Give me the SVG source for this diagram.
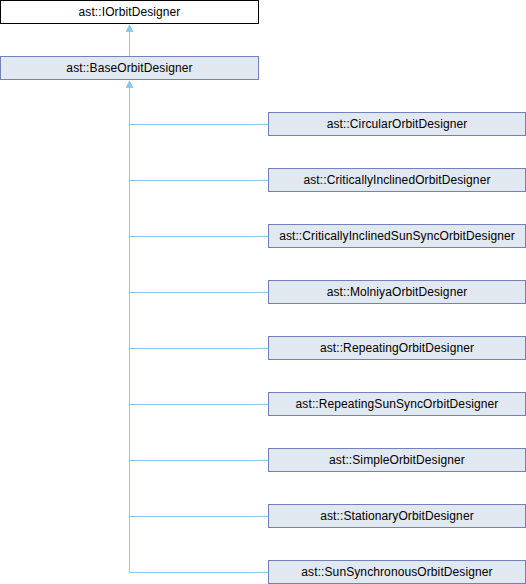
<svg xmlns="http://www.w3.org/2000/svg" width="526" height="584" viewBox="0 0 526 584">
<defs>
<style>
.n rect{fill:#E2E8F2;stroke:#7082B8;stroke-width:1}
.r rect{fill:#FFFFFF;stroke:#000000;stroke-width:1}
text{font-family:"Liberation Sans",Arial,sans-serif;font-size:12px;letter-spacing:0.1px;fill:#000;text-anchor:middle}
.e{fill:none;stroke:#8CC8EE;stroke-width:1}
</style>
<marker id="a" markerWidth="8" markerHeight="8" refX="7" refY="3.5" orient="auto" markerUnits="userSpaceOnUse">
<path d="M0,0 L7,3.5 L0,7 Z" fill="#8CC8EE" stroke="#8CC8EE"/>
</marker>
</defs>
<rect width="526" height="584" fill="#fff"/>
<g id="edges">
<path class="e" d="M129.5,56 L129.5,25" marker-end="url(#a)"/>
<path class="e" d="M129.5,572.5 L129.5,81" marker-end="url(#a)"/>
<path class="e" d="M129.5,124.5 H268"/>
<path class="e" d="M129.5,180.5 H268"/>
<path class="e" d="M129.5,236.5 H268"/>
<path class="e" d="M129.5,292.5 H268"/>
<path class="e" d="M129.5,348.5 H268"/>
<path class="e" d="M129.5,404.5 H268"/>
<path class="e" d="M129.5,460.5 H268"/>
<path class="e" d="M129.5,516.5 H268"/>
<path class="e" d="M129.5,572.5 H268"/>
</g>
<g id="IOrbitDesigner" class="r"><rect x="0.5" y="0.5" width="258" height="23"/><text x="129.5" y="15.5">ast::IOrbitDesigner</text></g>
<g id="BaseOrbitDesigner" class="n"><rect x="0.5" y="56.5" width="258" height="23"/><text x="129.5" y="71.5">ast::BaseOrbitDesigner</text></g>
<g id="CircularOrbitDesigner" class="n"><rect x="268.5" y="112.5" width="257" height="23"/><text x="397" y="127.5">ast::CircularOrbitDesigner</text></g>
<g id="CriticallyInclinedOrbitDesigner" class="n"><rect x="268.5" y="168.5" width="257" height="23"/><text x="397" y="183.5">ast::CriticallyInclinedOrbitDesigner</text></g>
<g id="CriticallyInclinedSunSyncOrbitDesigner" class="n"><rect x="268.5" y="224.5" width="257" height="23"/><text x="397" y="239.5">ast::CriticallyInclinedSunSyncOrbitDesigner</text></g>
<g id="MolniyaOrbitDesigner" class="n"><rect x="268.5" y="280.5" width="257" height="23"/><text x="397" y="295.5">ast::MolniyaOrbitDesigner</text></g>
<g id="RepeatingOrbitDesigner" class="n"><rect x="268.5" y="336.5" width="257" height="23"/><text x="397" y="351.5">ast::RepeatingOrbitDesigner</text></g>
<g id="RepeatingSunSyncOrbitDesigner" class="n"><rect x="268.5" y="392.5" width="257" height="23"/><text x="397" y="407.5">ast::RepeatingSunSyncOrbitDesigner</text></g>
<g id="SimpleOrbitDesigner" class="n"><rect x="268.5" y="448.5" width="257" height="23"/><text x="397" y="463.5">ast::SimpleOrbitDesigner</text></g>
<g id="StationaryOrbitDesigner" class="n"><rect x="268.5" y="504.5" width="257" height="23"/><text x="397" y="519.5">ast::StationaryOrbitDesigner</text></g>
<g id="SunSynchronousOrbitDesigner" class="n"><rect x="268.5" y="560.5" width="257" height="23"/><text x="397" y="575.5">ast::SunSynchronousOrbitDesigner</text></g>
</svg>
